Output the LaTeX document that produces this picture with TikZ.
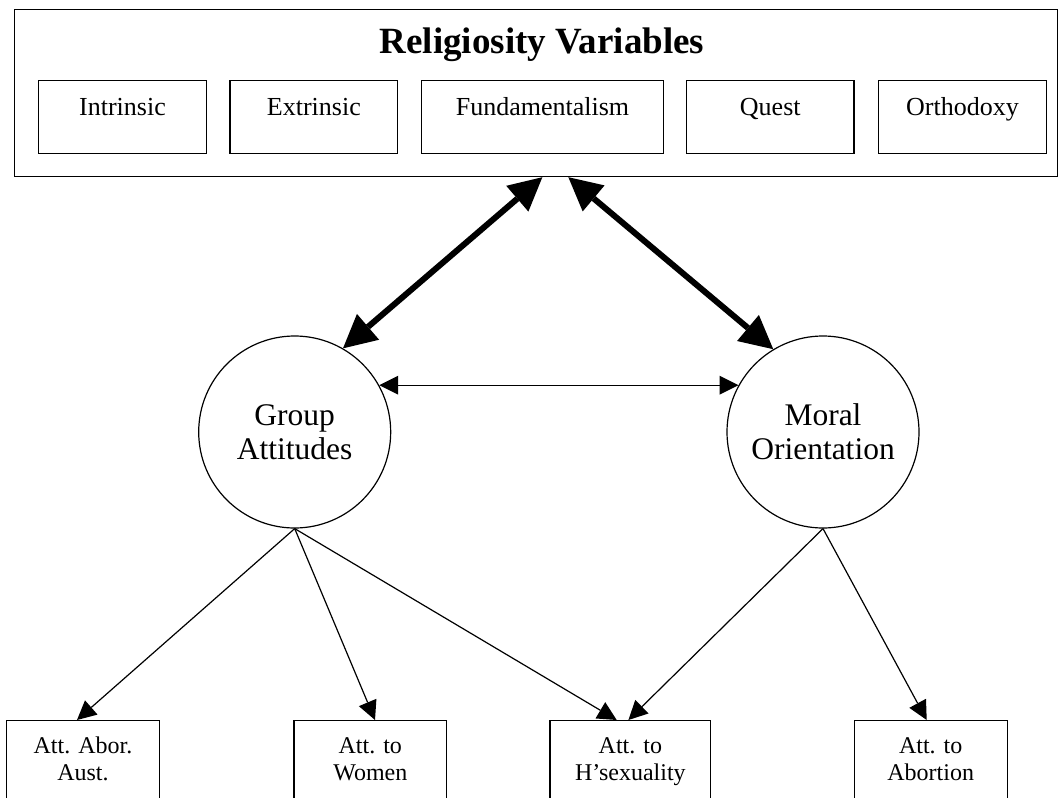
\documentclass[tikz,border=0pt]{standalone}
\usepackage{fontspec}
\setmainfont{Liberation Serif}
\usetikzlibrary{arrows.meta}
\newcommand{\bottomtext}[1]{\parbox[c][100pt][t]{140pt}{\centering\rule{0pt}{33pt}#1}}
\begin{document}
\begin{tikzpicture}[x=1pt,y=-1pt,
  box/.style={draw, line width=1.2pt, rectangle, inner sep=0pt},
  ibox/.style={box, anchor=north, text height=35pt, text depth=37.5pt, font=\fontsize{26}{30}\selectfont},
  bbox/.style={box, anchor=north, font=\fontsize{24}{27}\selectfont},
  latent/.style={draw, circle, line width=1.2pt, minimum size=192pt, inner sep=0pt, align=center, font=\fontsize{31.5}{34}\selectfont},
  oneway/.style={line width=1.2pt, -{Triangle[length=19pt,width=19pt,line width=0pt]}},
  twoway/.style={line width=1.2pt, {Triangle[length=19pt,width=19pt,line width=0pt]}-{Triangle[length=19pt,width=19pt,line width=0pt]}},
  bigtwoway/.style={line width=6pt, {Triangle[length=33pt,width=34pt,line width=0pt]}-{Triangle[length=33pt,width=34pt,line width=0pt]}}
]
\useasboundingbox (0,0) rectangle (1061,798);
\fill[white] (0,0) rectangle (1061,798);

% Religiosity block
\node[box, anchor=north west, minimum width=1043.5pt, minimum height=167pt] (rel) at (13.5,9) {};
\node[anchor=base, font=\fontsize{37}{40}\selectfont\bfseries] (title) at (542,53) {Religiosity Variables};
\node[ibox, minimum width=167.8pt] (intr) at (122.5,80) {Intrinsic};
\node[ibox, minimum width=167.8pt] (extr) at (313.9,80) {Extrinsic};
\node[ibox, minimum width=241.6pt] (fund) at (542.5,80) {Fundamentalism};
\node[ibox, minimum width=167.2pt] (quest) at (770.3,80) {Quest};
\node[ibox, minimum width=168.5pt] (orth) at (962.5,80) {Orthodoxy};

% latent variables
\node[latent] (ga) at (294.7,432) {Group\\Attitudes};
\node[latent] (mo) at (823,432) {Moral\\Orientation};

% indicators
\node[bbox, minimum width=152.3pt] (aust) at (83,720) {\bottomtext{Att. Abor.\\Aust.}};
\node[bbox, minimum width=152.6pt] (women) at (370.3,720) {\bottomtext{Att. to\\Women}};
\node[bbox, minimum width=160.7pt] (hsex) at (630.4,720) {\bottomtext{Att. to\\H’sexuality}};
\node[bbox, minimum width=153pt] (abort) at (930.7,720) {\bottomtext{Att. to\\Abortion}};

% connectors
\draw[bigtwoway] (ga.60) -- ([xshift=6.5pt]rel.south);
\draw[bigtwoway] (mo.121) -- ([xshift=32.5pt]rel.south);
\draw[twoway] (ga.29) -- (mo.151);
\draw[oneway] (ga.south) -- ([xshift=-6pt]aust.north);
\draw[oneway] (ga.south) -- ([xshift=4.7pt]women.north);
\draw[oneway] (ga.south) -- ([xshift=-13.7pt]hsex.north);
\draw[oneway] (mo.south) -- ([xshift=-2pt]hsex.north);
\draw[oneway] (mo.south) -- ([xshift=-4pt]abort.north);
\end{tikzpicture}
\end{document}
